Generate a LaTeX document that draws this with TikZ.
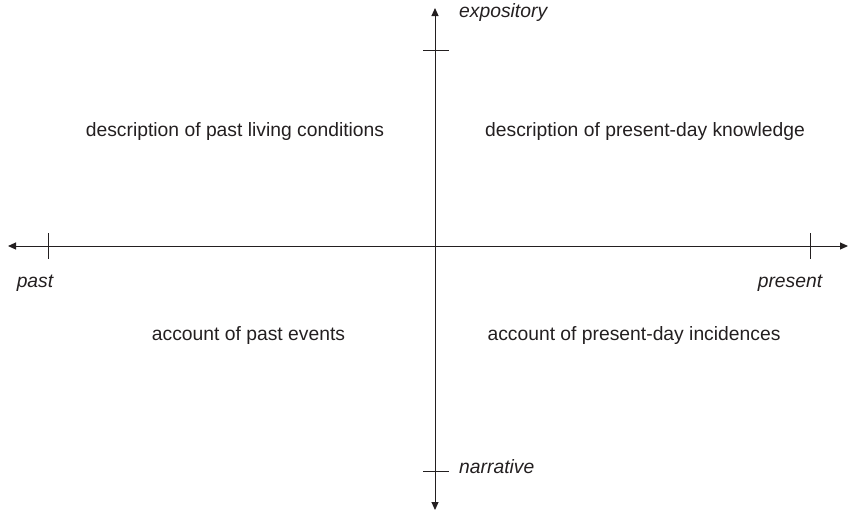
\documentclass[tikz,border=0pt]{standalone}
\usepackage{fontspec}
\setmainfont{Liberation Sans}
\usetikzlibrary{arrows.meta}

\tikzset{
  axis/.style = {line width=1pt, {Triangle[length=8pt,width=7pt]}-{Triangle[length=8pt,width=7pt]}},
  tick/.style = {line width=1pt},
  pole/.style = {font=\fontsize{19.3}{23}\selectfont\itshape, inner sep=0pt},
  quad/.style = {font=\fontsize{19.3}{23}\selectfont, inner sep=0pt}
}

\begin{document}
\begin{tikzpicture}[x=1pt, y=-1pt, color={rgb,255:red,35;green,31;blue,32}]
    \useasboundingbox (0,0) rectangle (850,515);
    % axes
    \coordinate (west) at (8,246);
    \coordinate (east) at (848,246);
    \coordinate (north) at (435,8);
    \coordinate (south) at (435,510);
    \draw [axis] (west) -- (east);
    \draw [axis] (south) -- (north);
    % ticks
    \foreach \name/\x in {pastmark/48, presentmark/810}
        \draw [tick] (\x,233) coordinate (\name) -- (\x,259);
    \foreach \name/\y in {expmark/50, narmark/471}
        \draw [tick] (423,\y) coordinate (\name) -- (449,\y);
    % pole labels
    \node [pole] (past) at (35,283) {past};
    \node [pole] (present) at (790,283) {present};
    \node [pole, anchor=west] (expository) at (459,13) {expository};
    \node [pole, anchor=west] (narrative) at (459,467) {narrative};
    % quadrants
    \node [quad] (pastdesc) at (235,132) {description of past living conditions};
    \node [quad] (presdesc) at (645,132) {description of present-day knowledge};
    \node [quad] (pastacc) at (248.5,336) {account of past events};
    \node [quad] (presacc) at (634,336) {account of present-day incidences};
\end{tikzpicture}
\end{document}
